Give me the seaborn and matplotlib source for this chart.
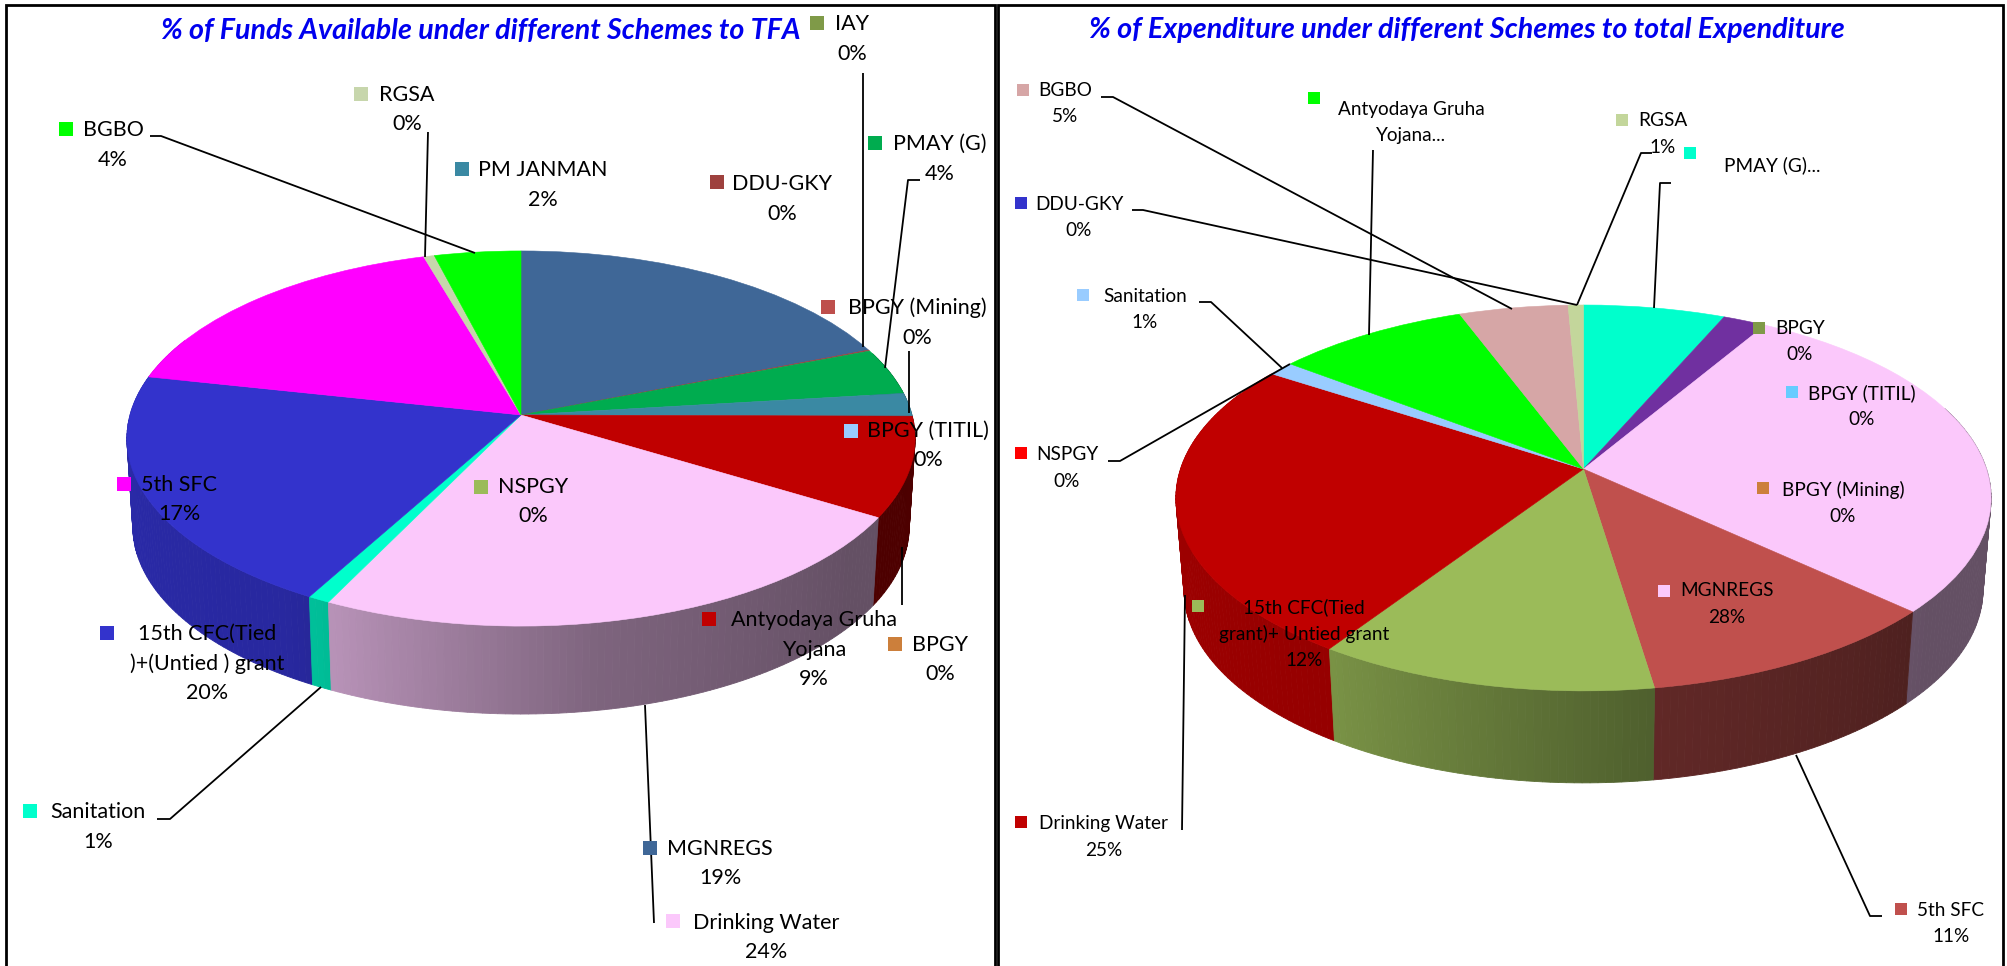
import numpy as np
import matplotlib
matplotlib.use("Agg")
import matplotlib.pyplot as plt
from matplotlib.patches import Rectangle
from matplotlib.transforms import Transform
import seaborn as sns

# ---------- data ----------
left_names = ["MGNREGS", "DDU-GKY", "IAY", "PMAY (G)", "PM JANMAN", "BPGY (Mining)", "BPGY (TITIL)", "BPGY",
              "Antyodaya Gruha\nYojana", "NSPGY", "Drinking Water", "Sanitation",
              "15th CFC(Tied\n)+(Untied ) grant", "5th SFC", "RGSA", "BGBO"]
left_values = [19.0, 0.1, 0.0, 4.0, 2.0, 0.0, 0.0, 0.0, 8.6, 0.0, 23.5, 0.8, 20.4, 17.1, 0.5, 4.0]
left_colors = ["#3F6797", "#9E413E", "#7F9A48", "#00AC4F", "#3A89A3", "#BE4F4C", "#99CCFF", "#CC7F3B",
               "#C00000", "#9BBB59", "#FBC8FB", "#00FFCC", "#3333CC", "#FF00FF", "#C7D6AC", "#00FF00"]
left_title = "% of Funds Available under different Schemes to TFA"

right_names = ["PMAY (G)...", "", "BPGY", "BPGY (TITIL)", "BPGY (Mining)", "MGNREGS", "5th SFC",
               "15th CFC(Tied\ngrant)+ Untied grant", "Drinking Water", "NSPGY", "Sanitation",
               "Antyodaya Gruha\nYojana...", "BGBO", "RGSA", "DDU-GKY"]
right_values = [6.5, 2.0, 0.0, 0.0, 0.0, 28.4, 10.7, 11.7, 24.9, 0.0, 1.2, 8.9, 5.0, 0.7, 0.0]
right_colors = ["#00FFCC", "#7030A0", "#7F9A48", "#66CCFF", "#CC7F3B", "#FBC8FB", "#C0504D", "#9BBB59",
                "#C00000", "#FF0000", "#99CCFF", "#00FF00", "#D6A6A6", "#C3D69B", "#3333CC"]
right_title = "% of Expenditure under different Schemes to total Expenditure"
# labels whose text carries no percentage in the reference
no_pct = {"PMAY (G)...", "Antyodaya Gruha\nYojana..."}

# ---------- layout (pixels of the 2008x966 canvas) ----------
# name: key x, key y, text centre x, first line y
left_place = {
    "IAY": (817, 23, 852, 24), "RGSA": (361, 94, 407, 95), "BGBO": (66, 129, 113, 130),
    "PM JANMAN": (462, 169, 543, 170), "PMAY (G)": (875, 143, 940, 144), "DDU-GKY": (717, 182, 782, 184),
    "BPGY (Mining)": (828, 307, 917, 308), "BPGY (TITIL)": (851, 431, 928, 431), "5th SFC": (124, 484, 179, 485),
    "NSPGY": (481, 487, 533, 487), "Antyodaya Gruha\nYojana": (709, 619, 814, 620), "BPGY": (895, 644, 940, 645),
    "15th CFC(Tied\n)+(Untied ) grant": (107, 633, 207, 634), "Sanitation": (30, 811, 98, 812),
    "MGNREGS": (650, 848, 720, 849), "Drinking Water": (673, 921, 766, 923),
}
right_place = {
    "BGBO": (1023, 90, 1065, 90), "Antyodaya Gruha\nYojana...": (1314, 98, 1411, 109), "RGSA": (1622, 120, 1663, 121),
    "PMAY (G)...": (1690, 153, 1772, 165), "DDU-GKY": (1021, 203, 1079, 204), "Sanitation": (1083, 295, 1145, 296),
    "NSPGY": (1021, 453, 1067, 455), "BPGY": (1759, 328, 1800, 328), "BPGY (TITIL)": (1792, 392, 1862, 393),
    "BPGY (Mining)": (1763, 488, 1843, 490), "MGNREGS": (1664, 591, 1727, 591),
    "15th CFC(Tied\ngrant)+ Untied grant": (1198, 606, 1304, 607), "Drinking Water": (1021, 822, 1104, 824),
    "5th SFC": (1901, 909, 1951, 910),
}
left_leaders = [
    [(428, 132), (425, 257)], [(150, 136), (161, 136), (475, 253)], [(863, 73), (863, 347)],
    [(920, 180), (908, 180), (885, 368)], [(909, 351), (909, 413)], [(902, 547), (902, 605)],
    [(157, 819), (170, 819), (321, 687)], [(645, 705), (654, 923)],
]
right_leaders = [
    [(1101, 97), (1113, 97), (1512, 309)], [(1132, 210), (1143, 210), (1577, 305)], [(1373, 150), (1369, 335)],
    [(1652, 153), (1641, 153), (1577, 305)], [(1671, 183), (1660, 183), (1654, 308)],
    [(1199, 302), (1211, 302), (1282, 368)], [(1108, 461), (1120, 461), (1290, 364)],
    [(1182, 830), (1185, 595)], [(1882, 916), (1870, 916), (1796, 755)],
]

# ---------- theme ----------
sns.set_theme(style="white")
plt.rcParams["font.family"] = ["Lato", "DejaVu Sans"]


class PieView(Transform):
    """Tilted, perspective view of a unit-radius pie, in canvas pixels."""
    input_dims = output_dims = 2
    is_separable = False
    has_inverse = False

    def __init__(self, cx, cy, a, b, k):
        super().__init__()
        self.cx, self.cy, self.a, self.b, self.k = cx, cy, a, b, k

    def transform_non_affine(self, v):
        v = np.asarray(v, dtype=float)
        w = 1 + self.k * v[:, 1]
        return np.column_stack([self.cx + self.b * v[:, 0] / w, self.cy - self.a * v[:, 1] / w])


def wall_shade(clock):
    # brightness of the side wall by clockwise angle from 12 o'clock
    return np.interp(clock, [130, 170, 213, 280], [0.40, 0.50, 0.78, 0.84])


def draw_pie(ax, values, palette, view, depth, shrink):
    wedges, _ = ax.pie(values, colors=palette, startangle=90, counterclock=False,
                       wedgeprops={"linewidth": 0})
    strips = []
    for w, col in zip(wedges, palette):
        w.set_transform(view + ax.transData)
        w.set_zorder(2)
        if w.theta2 - w.theta1 < 1e-6:
            continue
        w.set_edgecolor(col)
        w.set_linewidth(0.4)
        edges = np.linspace(w.theta1, w.theta2, max(2, int(w.theta2 - w.theta1) + 2))
        for t0, t1 in zip(edges[:-1], edges[1:]):
            clock = (90 - 0.5 * (t0 + t1)) % 360
            if clock < 70 or clock > 295:
                continue  # back of the pie: hidden behind the top face
            th = np.radians([t0, t1])
            top = view.transform(np.column_stack([np.cos(th), np.sin(th)]))
            bottom = top.copy()
            bottom[:, 0] = view.cx + (top[:, 0] - view.cx) * shrink
            bottom[:, 1] += depth
            shade = np.array(matplotlib.colors.to_rgb(col)) * wall_shade(clock)
            strips.append((top[:, 1].mean(), np.vstack([top, bottom[::-1]]), tuple(shade)))
    for _, poly, shade in sorted(strips, key=lambda s: s[0]):
        ax.fill(poly[:, 0], poly[:, 1], facecolor=shade, edgecolor=shade, linewidth=0.6, zorder=1)


def draw_labels(ax, names, values, palette, place, pitch, fs, key):
    for name, value, col in zip(names, values, palette):
        if name not in place:
            continue
        kx, ky, tx, ty = place[name]
        ax.add_patch(Rectangle((kx - key / 2, ky - key / 2), key, key, facecolor=col, edgecolor="none", zorder=5))
        lines = name.split("\n")
        if name not in no_pct:
            lines.append(f"{round(value)}%")
        for i, line in enumerate(lines):
            ax.text(tx, ty + i * pitch, line, ha="center", va="center", fontsize=fs, color="black", zorder=6)


fig = plt.figure(figsize=(20.08, 9.66), dpi=100)
ax = fig.add_axes([0, 0, 1, 1])

view_l = PieView(521, 415, 184.6, 391, 0.1253)
view_r = PieView(1583.5, 469, 188.6, 403, 0.150)
pal_l = sns.color_palette(left_colors)
pal_r = sns.color_palette(right_colors)
draw_pie(ax, left_values, pal_l, view_l, 88, 0.985)
draw_pie(ax, right_values, pal_r, view_r, 92, 0.98)

ax.set_aspect("auto")
ax.set_xlim(0, 2008)
ax.set_ylim(966, 0)
ax.axis("off")

for path in left_leaders + right_leaders:
    xs, ys = zip(*path)
    ax.plot(xs, ys, color="black", lw=1.3, zorder=3, solid_capstyle="butt")

draw_labels(ax, left_names, left_values, pal_l, left_place, 29.5, 15.5, 14)
draw_labels(ax, right_names, right_values, pal_r, right_place, 26.5, 13.7, 12.5)

ax.text(481, 31, left_title, ha="center", va="center", fontsize=20.6, fontweight="bold", fontstyle="italic", color="#0000EE", zorder=6)
ax.text(1467, 30, right_title, ha="center", va="center", fontsize=20.7, fontweight="bold", fontstyle="italic", color="#0000EE", zorder=6)

# panel frames (open at the bottom edge)
for x0, x1 in [(6, 995), (998, 2003)]:
    ax.plot([x0, x0, x1, x1], [966, 5, 5, 966], color="black", lw=2.0, zorder=7, solid_joinstyle="miter")

fig.savefig("out.png", dpi=100, facecolor="white")
